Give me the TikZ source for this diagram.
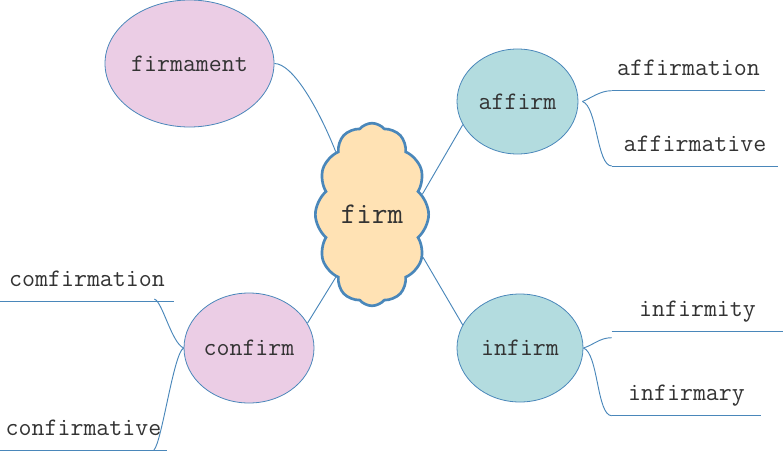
\documentclass[tikz,border=0pt]{standalone}
\usetikzlibrary{shapes.geometric,shapes.symbols}
\definecolor{linkblue}{HTML}{4A87BA}
\definecolor{rootfill}{HTML}{FFE2B4}
\definecolor{pinkfill}{HTML}{EBCDE5}
\definecolor{tealfill}{HTML}{B3DCDF}
\definecolor{wordgray}{HTML}{333333}
\tikzset{
 word/.style={font=\ttfamily\fontsize{18.9}{20}\selectfont,text=wordgray},
 stem/.style={word,ellipse,draw=linkblue,line width=0.6pt,inner sep=0pt},
 leaf/.style={word,inner sep=0pt,minimum width=#1*0.75pt,text height=12pt,text depth=11pt,anchor=south},
 link/.style={draw=linkblue,line width=0.7pt}
}
\begin{document}
\begin{tikzpicture}[x=0.75pt,y=-0.75pt]
\useasboundingbox(0,0)rectangle(784,453);
%root word
\node[word,cloud,cloud puffs=12,cloud puff arc=100,cloud ignores aspect,draw=linkblue,line width=2pt,
fill=rootfill,minimum width=85pt,minimum height=137pt,font=\ttfamily\fontsize{22.6}{24}\selectfont](firm)at(372,214.5){firm};
%stems
\node[stem,fill=pinkfill,minimum width=126.75pt,minimum height=95.25pt](firmament)at(189.5,63.5){firmament};
\node[stem,fill=tealfill,minimum width=90.75pt,minimum height=78.75pt](affirm)at(517.5,101.5){affirm};
\node[stem,fill=tealfill,minimum width=94.5pt,minimum height=81pt](infirm)at(520,348){infirm};
\node[stem,fill=pinkfill,minimum width=97.5pt,minimum height=82.5pt](confirm)at(249,348){confirm};
%leaves with underline
\node[leaf=153](affirmation)at(688.5,90.7){affirmation};
\node[leaf=166](affirmative)at(695,166){affirmative};
\node[leaf=171](infirmity)at(697.5,331.7){infirmity};
\node[leaf=149](infirmary)at(686.5,415.7){infirmary};
\node[leaf=174](comfirmation)at(87,301.7){comfirmation};
\node[leaf=167](confirmative)at(83.5,450){confirmative};
\foreach \w in {affirmation,affirmative,infirmity,infirmary,comfirmation,confirmative}
{
\draw[link](\w.south west)--(\w.south east);
}
%root to stems
\draw[link](firmament.east)..controls +(18,0) and +(-18,-45)..(firm.120);
\draw[link](firm.22)--(affirm.203);
\draw[link](firm.-40)--(infirm.158);
\draw[link](firm.-120)--(confirm.23);
%stems to leaves
\coordinate(affirm hub)at([xshift=3pt]affirm.east);
\draw[link](affirm hub)..controls +(8,-3) and +(-12,0)..(affirmation.south west);
\draw[link](affirm hub)..controls +(15,5) and +(-15,0)..(affirmative.south west);
\draw[link](infirm.east)..controls +(10,-3) and +(-12,0)..([yshift=-4.5pt]infirmity.south west);
\draw[link](infirm.east)..controls +(15,5) and +(-15,0)..(infirmary.south west);
\draw[link](confirm.west)..controls +(-12,-5) and +(8,2)..([xshift=-15pt,yshift=2pt]comfirmation.south east);
\draw[link](confirm.west)..controls +(-10,5) and +(8,-8)..([xshift=-10pt]confirmative.south east);
\end{tikzpicture}
\end{document}
